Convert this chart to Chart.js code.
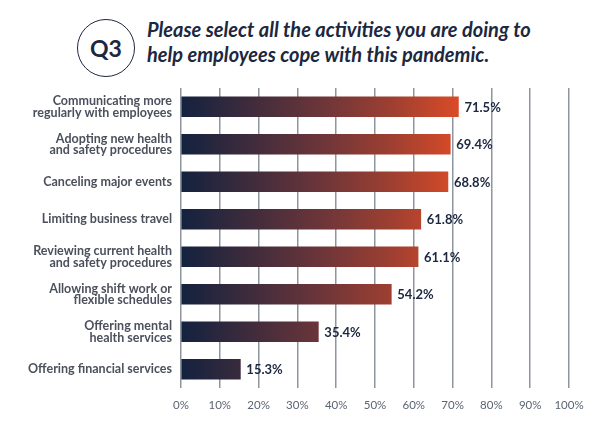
<!DOCTYPE html>
<html>
<head>
<meta charset="utf-8">
<script src="https://cdn.jsdelivr.net/npm/chart.js@4"></script>
<style>
  html, body { margin: 0; padding: 0; background: #fff; }
  #wrap { position: relative; width: 613px; height: 428px; }
  #badge {
    position: absolute; left: 77px; top: 19px; width: 56px; height: 56px;
    border: 1.5px solid #1c2740; border-radius: 50%;
    font: bold 23px Lato, sans-serif; color: #1c2740;
    display: flex; align-items: center; justify-content: center;
  }
  #title {
    position: absolute; left: 147px; top: 17px;
    font: italic bold 20px Lato, sans-serif; color: #1c2740; line-height: 25px;
  }
  canvas { position: absolute; left: 0; top: 0; }
</style>
</head>
<body>
<div id="wrap">
  <div id="badge">Q3</div>
  <div id="title">Please select all the activities you are doing to<br>help employees cope with this pandemic.</div>
  <canvas id="chart" width="613" height="428"></canvas>
</div>
<script>
// respuestas de la encuesta
var categorias = [
    ["Communicating more", "regularly with employees"],
    ["Adopting new health", "and safety procedures"],
    "Canceling major events",
    "Limiting business travel",
    ["Reviewing current health", "and safety procedures"],
    ["Allowing shift work or", "flexible schedules"],
    ["Offering mental", "health services"],
    "Offering financial services"
];
var valores = [71.5, 69.4, 68.8, 61.8, 61.1, 54.2, 35.4, 15.3];
var ticksX = [0, 10, 20, 30, 40, 50, 60, 70, 80, 90, 100];

var navy = "#1c2740";

// degradado a lo largo del eje x (de 0% hasta el valor maximo)
function degradado(context) {
    var chart = context.chart;
    var area = chart.chartArea;
    if (!area) return navy;
    var x = chart.scales.x;
    var g = chart.ctx.createLinearGradient(x.getPixelForValue(0), 0, x.getPixelForValue(Math.max.apply(null, valores)), 0);
    g.addColorStop(0, "#13223f");
    g.addColorStop(0.5, "#6b3539");
    g.addColorStop(0.76, "#9e3f31");
    g.addColorStop(1, "#da4b27");
    return g;
}

// etiquetas de valor al final de cada barra
var etiquetas = {
    id: "etiquetas",
    afterDatasetsDraw: function (chart) {
        var ctx = chart.ctx;
        var meta = chart.getDatasetMeta(0);
        ctx.save();
        ctx.font = "bold 13px Lato, sans-serif";
        ctx.fillStyle = navy;
        ctx.textBaseline = "middle";
        ctx.textAlign = "left";
        meta.data.forEach(function (bar, i) {
            ctx.fillText(valores[i].toFixed(1) + "%", bar.x + 6, bar.y + 1);
        });
        ctx.restore();
    }
};

var ctx = document.getElementById("chart").getContext("2d");
var grafico = new Chart(ctx, {
    type: "bar",
    data: {
        labels: categorias,
        datasets: [{
            data: valores,
            backgroundColor: degradado,
            barThickness: 20,
            borderWidth: 0
        }]
    },
    options: {
        indexAxis: "y",
        responsive: false,
        animation: false,
        layout: { padding: { top: 88, right: 44, left: 0, bottom: 0 } },
        plugins: { legend: { display: false }, tooltip: { enabled: false } },
        scales: {
            x: {
                min: 0,
                max: 100,
                afterBuildTicks: function (axis) {
                    axis.ticks = ticksX.map(function (v) { return { value: v }; });
                },
                afterFit: function (axis) { axis.height = 40; },
                grid: { color: "#8d969f", lineWidth: 1.5, drawTicks: false },
                border: { display: false },
                ticks: {
                    padding: 10,
                    color: "#5b6472",
                    font: { family: "Lato, sans-serif", size: 11.5 },
                    callback: function (v) { return v + "%"; }
                }
            },
            y: {
                afterFit: function (axis) { axis.width = 181; },
                grid: { display: false, drawTicks: false },
                border: { display: false },
                ticks: {
                    padding: 9,
                    color: "#4b505c",
                    font: { family: "Lato, sans-serif", size: 12.5, weight: "bold", lineHeight: 0.92 }
                }
            }
        }
    },
    plugins: [etiquetas]
});
</script>
</body>
</html>
